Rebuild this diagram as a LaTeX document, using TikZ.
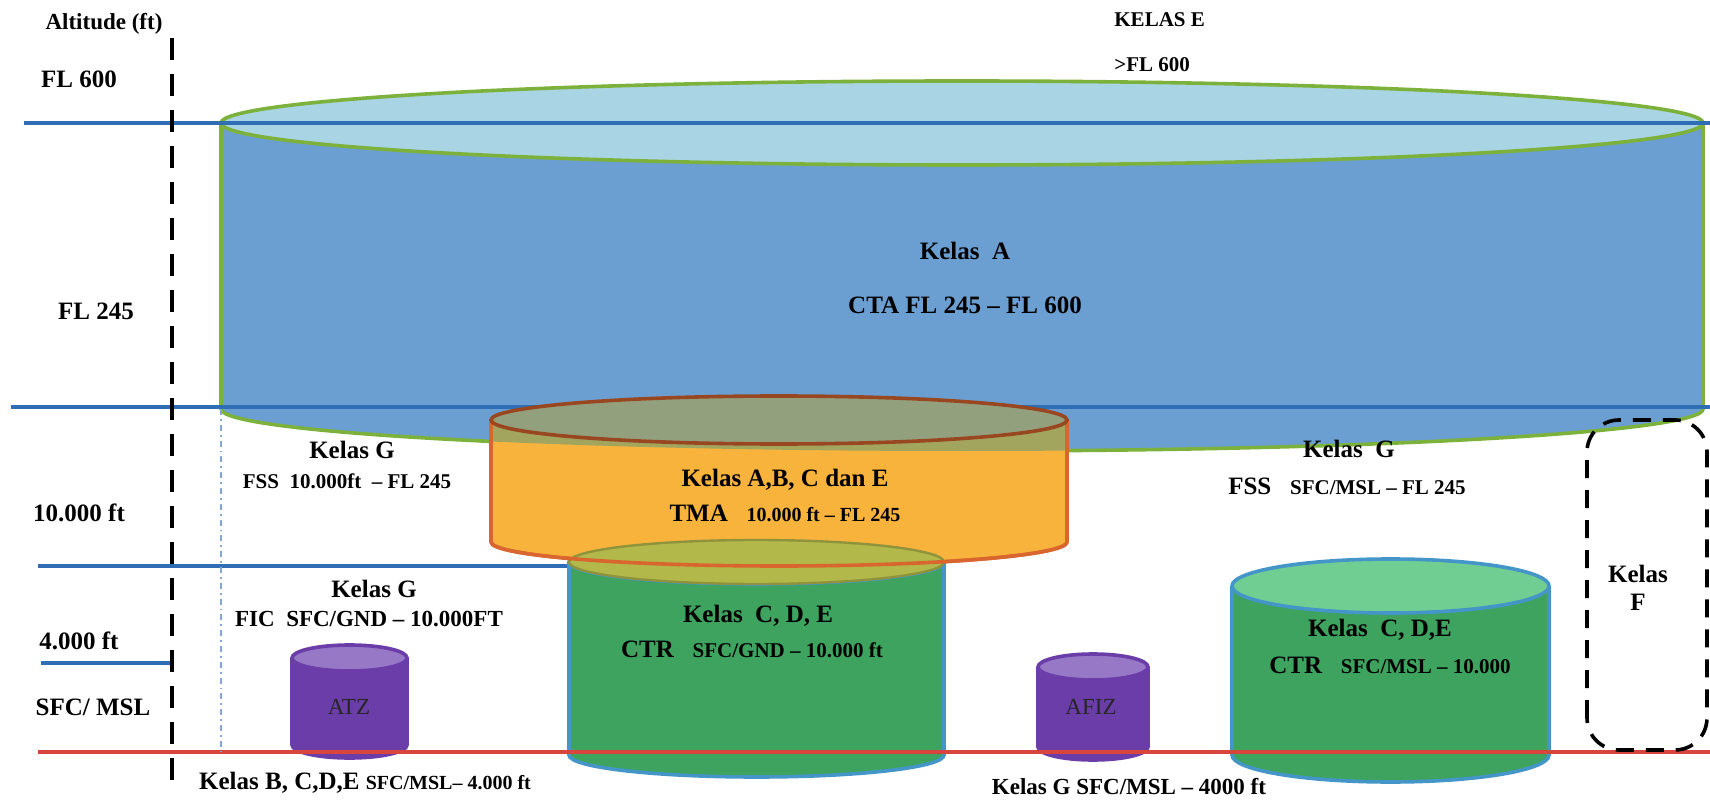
\documentclass[tikz,border=0pt]{standalone}
\usepackage{fontspec}
\setmainfont{Liberation Serif}
\usepackage{xcolor}

\definecolor{ctablue}{HTML}{6C9FD1}
\definecolor{ctatop}{HTML}{A9D4E3}
\definecolor{ctaedge}{HTML}{7CB23B}
\definecolor{fllines}{HTML}{2F6DB5}
\definecolor{tmaorange}{HTML}{F8B33C}
\definecolor{tmaolive}{HTML}{A2A55E}
\definecolor{tmatop}{HTML}{93A07E}
\definecolor{tmaedge}{HTML}{D9652F}
\definecolor{ctrgreen}{HTML}{3EA35E}
\definecolor{ctrtop}{HTML}{B3B84A}
\definecolor{ctrtoplight}{HTML}{71CE92}
\definecolor{ctredge}{HTML}{4495C8}
\definecolor{atzpurple}{HTML}{6A3DA8}
\definecolor{atztop}{HTML}{9778C6}
\definecolor{sfcred}{HTML}{D8453C}

% cx, rx, top, bottom, ry, body, top face, border
\newcommand{\airspace}[8]{%
  \fill[#6] (#1-#2,#3) -- (#1-#2,#4) arc[start angle=180,end angle=360,x radius=#2,y radius=#5] -- (#1+#2,#3) -- cycle;
  \draw[#8,line width=1.8pt] (#1-#2,#3) -- (#1-#2,#4) arc[start angle=180,end angle=360,x radius=#2,y radius=#5] -- (#1+#2,#3);
  \filldraw[fill=#7,draw=#8,line width=1.8pt] (#1,#3) ellipse [x radius=#2,y radius=#5];
}

\begin{document}
\begin{tikzpicture}[x=0.5pt,y=0.5pt,
    lab/.style={font=\bfseries\fontsize{12.5}{14}\selectfont,inner sep=1pt},
    sml/.style={font=\bfseries\fontsize{10.5}{12}\selectfont,inner sep=1pt},
    level/.style={fllines,line width=2pt},
    axis/.style={black,line width=1.8pt,dash pattern=on 11pt off 7pt}]

\useasboundingbox (0,0) rectangle (1710,805);

% CTA
\airspace{962}{741}{682}{396}{42}{ctablue}{ctatop}{ctaedge}

\draw[level] (24,682) -- (1710,682);
\draw[level] (11,398) -- (1710,398);
\draw[level] (38,239) -- (569,239);
\draw[level] (41,142) -- (172,142);

% CTR kiri
\airspace{756.5}{187.5}{243}{50}{22}{ctrgreen}{ctrtop}{ctredge}

% TMA
\fill[tmaorange] (491,385) -- (491,263) arc[start angle=180,end angle=360,x radius=288,y radius=24] -- (1067,385) -- cycle;
\begin{scope}
  \clip (221,682) -- (221,396) arc[start angle=180,end angle=360,x radius=741,y radius=42] -- (1703,682) -- cycle;
  \fill[tmaolive] (491,385) rectangle (1067,250);
\end{scope}
\draw[tmaedge,line width=1.8pt] (491,385) -- (491,263) arc[start angle=180,end angle=360,x radius=288,y radius=24] -- (1067,385);
\filldraw[fill=tmatop,draw=tmaedge!70!black,line width=1.8pt] (779,385) ellipse [x radius=288,y radius=24];
\filldraw[fill=ctrtop,draw=ctrtop!80!black,line width=1.2pt] (756.5,243) ellipse [x radius=187.5,y radius=22];
\draw[tmaedge,line width=1.8pt] (491,263) arc[start angle=180,end angle=360,x radius=288,y radius=24];

% CTR kanan, ATZ, AFIZ
\airspace{1390.5}{158.5}{219}{50}{27}{ctrgreen}{ctrtoplight}{ctredge}
\airspace{349.5}{57.5}{147}{60}{13}{atzpurple}{atztop}{atzpurple}
\airspace{1093}{55}{138}{58}{13}{atzpurple}{atztop}{atzpurple}

\draw[sfcred,line width=2.2pt] (38,53) -- (1710,53);
\draw[fllines!60,line width=0.9pt,dash dot] (221,396) -- (221,53);
\draw[axis] (172,767) -- (172,20);
\draw[black,line width=1.8pt,dash pattern=on 9pt off 6pt,rounded corners=16pt] (1587,55) rectangle (1707,385);

\node[lab,font=\bfseries\fontsize{11.5}{13}\selectfont] (alt) at (104,781) {Altitude (ft)};
\node[lab] (fl600) at (79,726) {FL 600};
\node[lab] (fl245) at (96,494) {FL 245};
\node[lab] (ft10k) at (79,292) {10.000 ft};
\node[lab] (ft4k) at (79,164) {4.000 ft};
\node[lab] (sfc) at (93,98) {SFC/ MSL};

\node[sml,anchor=west] (kelasE) at (1112,785) {KELAS E};
\node[sml,anchor=west] (aboveE) at (1112,740) {>FL 600};

\node[lab] (ctaK) at (965,554) {Kelas\ \ A};
\node[lab] (ctaR) at (965,500) {CTA FL 245 – FL 600};

\node[lab] (fssLK) at (352,355) {Kelas G};
\node[sml] (fssLR) at (347,324) {FSS\ \ 10.000ft\ \ – FL 245};

\node[lab] (tmaK) at (785,325) {Kelas A,B, C dan E};
\node[lab] (tmaR) at (785,292) {TMA\ \ \ {\fontsize{10}{11}\selectfont 10.000 ft – FL 245}};

\node[lab] (ficK) at (374,216) {Kelas G};
\node[sml,font=\bfseries\fontsize{11.5}{13}\selectfont] (ficR) at (369,186) {FIC\ \ SFC/GND – 10.000FT};

\node[lab] (ctrLK) at (758,189) {Kelas\ \ C, D, E};
\node[lab] (ctrLR) at (752,156) {CTR\ \ \ {\fontsize{10.5}{12}\selectfont SFC/GND – 10.000 ft}};

\node[font=\fontsize{11.5}{13}\selectfont,text=black!85] (atz) at (349,98) {ATZ};
\node[font=\fontsize{11.5}{13}\selectfont,text=black!85] (afiz) at (1091,98) {AFIZ};

\node[lab] (fssRK) at (1349,356) {Kelas\ \ G};
\node[lab] (fssRR) at (1347,319) {FSS\ \ \ {\fontsize{10.5}{12}\selectfont SFC/MSL – FL 245}};

\node[lab] (ctrRK) at (1380,175) {Kelas\ \ C, D,E};
\node[lab] (ctrRR) at (1390,140) {CTR\ \ \ {\fontsize{10.5}{12}\selectfont SFC/MSL – 10.000}};

\node[lab,align=center] (kelasF) at (1638,217) {Kelas\\F};

\node[lab] (atzK) at (365,22) {Kelas B, C,D,E {\fontsize{10}{11}\selectfont SFC/MSL– 4.000 ft}};
\node[sml,font=\bfseries\fontsize{11.5}{13}\selectfont] (afizK) at (1129,18) {Kelas G SFC/MSL – 4000 ft};

\end{tikzpicture}
\end{document}
